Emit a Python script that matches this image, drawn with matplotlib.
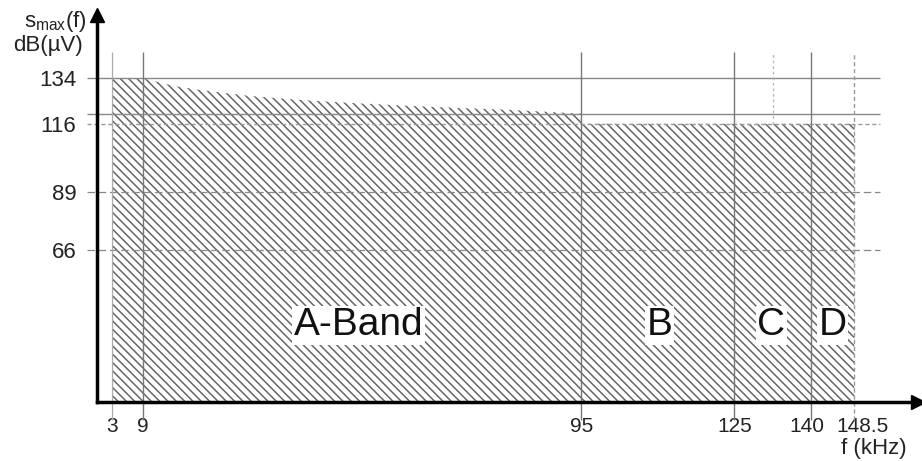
import numpy as np
import matplotlib
matplotlib.use("Agg")
import matplotlib.pyplot as plt
from matplotlib.transforms import ScaledTranslation

plt.rcParams['font.family'] = ['Liberation Sans', 'DejaVu Sans']
plt.rcParams['hatch.linewidth'] = 1.1
plt.rcParams['mathtext.fontset'] = 'custom'
plt.rcParams['mathtext.rm'] = 'Liberation Sans'

# limit curve (kHz, dBuV)
freq = [3, 9, 15, 20, 30, 40, 50, 60, 70, 80, 95, 95, 125, 140, 148.5]
level = [134, 134, 131, 129.4, 127, 125.4, 124.2, 123.2, 122.3, 121.6, 120, 116, 116, 116, 116]

x_ticks = [3, 9, 95, 125, 140, 148.5]
x_labels = ['3', '9', '95', '125', '140', '148.5']
y_ticks = [134, 116, 89, 66]

bands = ['A-Band', 'B', 'C', 'D']
band_pos = [51.3, 110.3, 132.2, 144.2]

fig = plt.figure(figsize=(9.22, 4.61), dpi=100)
ax = fig.add_axes([97 / 922, 59 / 461, 821 / 922, 387 / 461])
ax.set_xlim(0, 161)
ax.set_ylim(6, 159)

# hatched area
ax.fill_between(freq, 6, level, facecolor='white', edgecolor='#666666',
                hatch='\\\\\\\\', linewidth=0, zorder=1)

# grid lines
ax.hlines([134, 120], -2, 153.5, colors='#888888', lw=1.0, clip_on=False, zorder=2)
ax.hlines([116], -2, 153.5, colors='#999999', lw=1.0, linestyles=(0, (3, 2)), clip_on=False, zorder=2)
ax.hlines([89, 66], -2, 153.5, colors='#888888', lw=0.9, linestyles=(0, (6, 3)), clip_on=False, zorder=2)
ax.vlines([9, 95, 125, 140], -1, 144.3, colors='#777777', lw=1.0, clip_on=False, zorder=2)
ax.vlines([3], -1, 144.3, colors='#aaaaaa', lw=0.9, clip_on=False, zorder=2)
ax.vlines([148.5], -1, 144.3, colors='#999999', lw=1.0, linestyles=(0, (3, 2)), clip_on=False, zorder=2)
ax.vlines([132.5], 116, 144.3, colors='#bbbbbb', lw=1.0, linestyles=(0, (2, 2)), clip_on=False, zorder=2)

# axes
for s in ['top', 'right']:
    ax.spines[s].set_visible(False)
for s in ['left', 'bottom']:
    ax.spines[s].set_linewidth(2.5)
    ax.spines[s].set_zorder(5)
ax.plot(0, 1, marker='^', color='black', markersize=10, transform=ax.transAxes, clip_on=False, zorder=6)
ax.plot(1, 0, marker='>', color='black', markersize=10, transform=ax.transAxes, clip_on=False, zorder=6)

ax.set_xticks(x_ticks)
ax.set_xticklabels(x_labels)
ax.set_yticks(y_ticks)
ax.set_yticklabels([str(v) for v in y_ticks])
ax.tick_params(axis='y', length=0, labelsize=16, colors='#222222', pad=15)
ax.tick_params(axis='x', length=0, labelsize=15, colors='#222222', pad=11)

# nudge crowded labels apart
xl = ax.get_xticklabels()
xl[4].set_transform(xl[4].get_transform() + ScaledTranslation(-4 / 100, 0, fig.dpi_scale_trans))
xl[5].set_transform(xl[5].get_transform() + ScaledTranslation(8 / 100, 0, fig.dpi_scale_trans))

for name, pos in zip(bands, band_pos):
    ax.text(pos, 36.3, name, fontsize=28, ha='center', va='center', color='#111111',
            bbox=dict(facecolor='white', edgecolor='none', pad=1), zorder=4)

fig.text(55 / 922, 1 - 22 / 461, r'$\mathrm{s_{max}(f)}$', fontsize=16, ha='center', va='center', color='#222222')
fig.text(48 / 922, 1 - 46 / 461, 'dB(µV)', fontsize=16, ha='center', va='center', color='#222222')
fig.text(874 / 922, 1 - 448 / 461, 'f (kHz)', fontsize=16, ha='center', va='center', color='#222222')

fig.savefig('out.png', dpi=100)
